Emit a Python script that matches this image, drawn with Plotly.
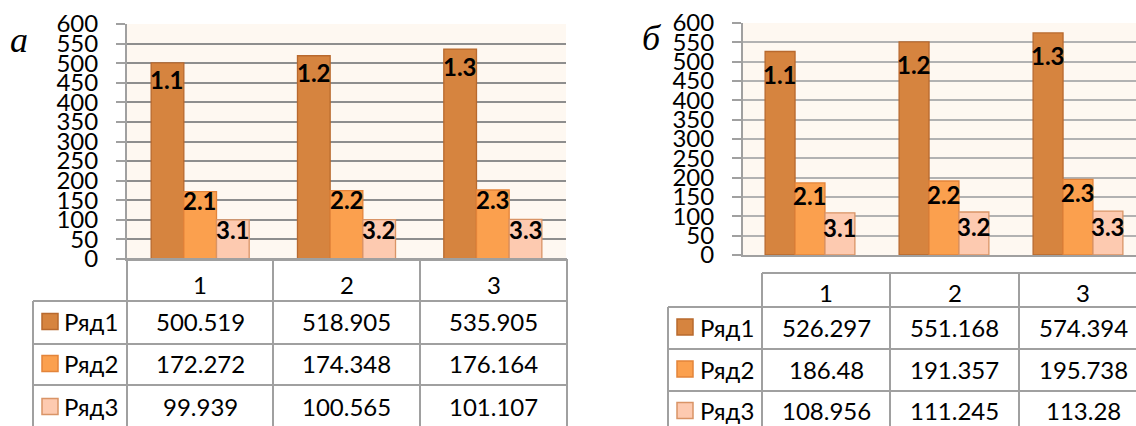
import plotly.graph_objects as go

W, H = 1136, 426

# ---- data -------------------------------------------------------------
categories = [1, 2, 3]
series_names = ["Ряд1", "Ряд2", "Ряд3"]

a_row1 = [500.519, 518.905, 535.905]
a_row2 = [172.272, 174.348, 176.164]
a_row3 = [99.939, 100.565, 101.107]

b_row1 = [526.297, 551.168, 574.394]
b_row2 = [186.48, 191.357, 195.738]
b_row3 = [108.956, 111.245, 113.28]

y_tick_values = list(range(0, 601, 50))
panel_letters = ["а", "б"]

# ---- styles -----------------------------------------------------------
FILLS = ["#D6843F", "#FBA04E", "#FDCAB0"]
EDGES = ["#B8692E", "#E3843A", "#D99466"]
PLOT_BG = "#FEF8F1"
LINE_GREY = "#A0A0A0"
FONT = "Lato"
BARGAP = 0.33
TICK_SIZE = 24
LABEL_SIZE = 24
TABLE_SIZE = 24


def px(x):
    return x / W


def py(y):
    return 1 - y / H


# pixel geometry of both panels
panels = [
    dict(
        values=[a_row1, a_row2, a_row3],
        xaxis="x", yaxis="y",
        plot_left=127, plot_right=566, plot_top=24, plot_bottom=259,
        cat_px=(566 - 127) / 3,
        grid="#8E8E8E",
        label_shift=[-17, -9, -10],
        table_cols=[127, 273, 420, 567], table_label_left=33,
        table_top=259, table_rows=[301, 344, 385, 430],
        header_shift=4,
        key_x=42, name_x=62,
        letter_xy=(19, 40),
    ),
    dict(
        values=[b_row1, b_row2, b_row3],
        xaxis="x2", yaxis="y2",
        plot_left=743, plot_right=W, plot_top=23, plot_bottom=255,
        cat_px=134,
        grid="#B2B2B2",
        label_shift=[-23, -13, -15],
        table_cols=[762, 890, 1019, 1147], table_label_left=668,
        table_top=273, table_rows=[307, 349, 391, 432],
        header_shift=2,
        key_x=677, name_x=698,
        letter_xy=(652, 38),
    ),
]

fig = go.Figure()
shapes = []
annotations = []
layout_axes = {}

for p_i, p in enumerate(panels):
    # bars
    for s_i, name in enumerate(series_names):
        fig.add_trace(go.Bar(
            x=categories, y=p["values"][s_i], name=name,
            xaxis=p["xaxis"], yaxis=p["yaxis"],
            marker=dict(color=FILLS[s_i], line=dict(color=EDGES[s_i], width=1.3)),
            showlegend=False, hoverinfo="skip",
        ))

    # bar labels "series.category"
    bar_w = (1 - BARGAP) / len(series_names)
    for s_i in range(len(series_names)):
        for c_i, cat in enumerate(categories):
            annotations.append(dict(
                x=cat + (s_i - 1) * bar_w, y=p["values"][s_i][c_i],
                xref=p["xaxis"], yref=p["yaxis"],
                text=f"<b>{s_i + 1}.{c_i + 1}</b>",
                showarrow=False, xanchor="center", yanchor="middle",
                yshift=p["label_shift"][s_i],
                font=dict(family=FONT, size=LABEL_SIZE, color="black"),
            ))

    # axes
    x_end = 0.5 + (p["plot_right"] - p["plot_left"]) / p["cat_px"]
    xkey = "xaxis" if p_i == 0 else "xaxis2"
    ykey = "yaxis" if p_i == 0 else "yaxis2"
    layout_axes[xkey] = dict(
        domain=[px(p["plot_left"]), px(p["plot_right"])],
        range=[0.5, x_end], showticklabels=False, ticks="",
        showgrid=False, zeroline=False, automargin=False,
        showline=True, linecolor=LINE_GREY, linewidth=2,
        anchor=p["yaxis"],
    )
    layout_axes[ykey] = dict(
        domain=[py(p["plot_bottom"]), py(p["plot_top"])],
        range=[0, 600], tickvals=y_tick_values,
        ticks="outside", ticklen=9, tickwidth=2, tickcolor=LINE_GREY,
        ticklabelstandoff=13, automargin=False,
        tickfont=dict(family=FONT, size=TICK_SIZE, color="black"),
        showgrid=True, gridcolor=p["grid"], gridwidth=2,
        zeroline=False, showline=True, linecolor=LINE_GREY, linewidth=2,
        anchor=p["xaxis"],
    )
    # plot area background
    shapes.append(dict(
        type="rect", xref="paper", yref="paper", layer="below",
        x0=px(p["plot_left"]), x1=px(p["plot_right"]),
        y0=py(p["plot_bottom"]), y1=py(p["plot_top"]),
        fillcolor=PLOT_BG, line=dict(width=0),
    ))

    # data table below the plot
    cols = p["table_cols"]
    rows = p["table_rows"]
    top = p["table_top"]
    left = p["table_label_left"]
    line = dict(color=LINE_GREY, width=2)

    def hline(y, x0, x1):
        shapes.append(dict(type="line", xref="paper", yref="paper",
                           x0=px(x0), x1=px(x1), y0=py(y), y1=py(y), line=line))

    def vline(x, y0, y1):
        shapes.append(dict(type="line", xref="paper", yref="paper",
                           x0=px(x), x1=px(x), y0=py(y0), y1=py(y1), line=line))

    hline(top, cols[0], cols[-1])
    for cx in cols:
        vline(cx, top, H + 10)
    vline(left, rows[0], H + 10)
    for ry in rows[:-1]:
        hline(ry, left, cols[-1])

    for c_i, cat in enumerate(categories):
        cx = (cols[c_i] + cols[c_i + 1]) / 2
        annotations.append(dict(
            x=px(cx), y=py((top + rows[0]) / 2 + p["header_shift"]),
            xref="paper", yref="paper", text=str(cat), showarrow=False,
            xanchor="center", yanchor="middle",
            font=dict(family=FONT, size=TABLE_SIZE, color="black"),
        ))
    for s_i, name in enumerate(series_names):
        cy = (rows[s_i] + rows[s_i + 1]) / 2 - 1
        shapes.append(dict(
            type="rect", xref="paper", yref="paper",
            x0=px(p["key_x"]), x1=px(p["key_x"] + 16),
            y0=py(cy + 8), y1=py(cy - 8),
            fillcolor=FILLS[s_i], line=dict(color=EDGES[s_i], width=1.5),
        ))
        annotations.append(dict(
            x=px(p["name_x"]), y=py(cy), xref="paper", yref="paper",
            text=name, showarrow=False, xanchor="left", yanchor="middle",
            font=dict(family=FONT, size=TABLE_SIZE, color="black"),
        ))
        for c_i in range(len(categories)):
            cx = (cols[c_i] + cols[c_i + 1]) / 2
            annotations.append(dict(
                x=px(cx), y=py(cy), xref="paper", yref="paper",
                text=str(p["values"][s_i][c_i]), showarrow=False,
                xanchor="center", yanchor="middle",
                font=dict(family=FONT, size=TABLE_SIZE, color="black"),
            ))

    # panel letter
    lx, ly = p["letter_xy"]
    annotations.append(dict(
        x=px(lx), y=py(ly), xref="paper", yref="paper",
        text=f"<i>{panel_letters[p_i]}</i>", showarrow=False,
        xanchor="center", yanchor="middle",
        font=dict(family="Liberation Serif", size=36, color="black"),
    ))

fig.update_layout(
    width=W, height=H, autosize=False,
    margin=dict(l=0, r=0, t=0, b=0, autoexpand=False),
    paper_bgcolor="white", plot_bgcolor="rgba(0,0,0,0)",
    barmode="group", bargap=BARGAP, bargroupgap=0,
    shapes=shapes, annotations=annotations,
    **layout_axes,
)

fig.write_html("out.html")
